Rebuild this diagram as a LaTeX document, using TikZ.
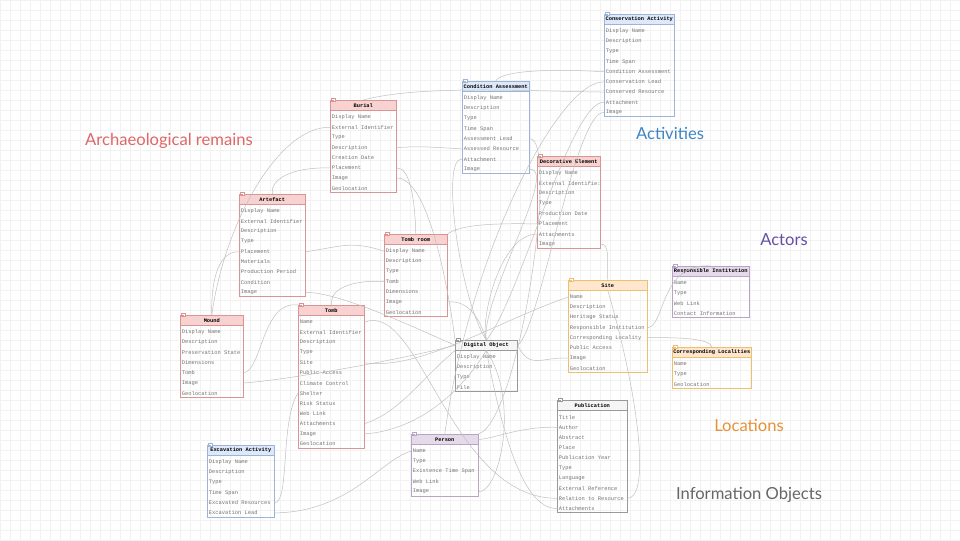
\documentclass[tikz,border=0pt]{standalone}
\usepackage{fontspec}
\setmonofont{Liberation Mono}
\newfontfamily\groupfont{Lato}
\usetikzlibrary{calc}

\definecolor{redline}{HTML}{D99593}
\definecolor{redfill}{HTML}{F8D2D0}
\definecolor{blueline}{HTML}{9DB4D8}
\definecolor{bluefill}{HTML}{DDE9FA}
\definecolor{greyline}{HTML}{999999}
\definecolor{greyfill}{HTML}{F5F5F5}
\definecolor{orangeline}{HTML}{EBC170}
\definecolor{orangefill}{HTML}{FFE7CF}
\definecolor{purpleline}{HTML}{B9A3C6}
\definecolor{purplefill}{HTML}{E5DAEA}
\definecolor{remainscol}{HTML}{E06666}
\definecolor{activitycol}{HTML}{3D85C6}
\definecolor{actorcol}{HTML}{674EA7}
\definecolor{locationcol}{HTML}{E69138}
\definecolor{infocol}{HTML}{666666}

\tikzset{
  ehead/.style={draw=#1line, fill=#1fill, line width=0.4pt, anchor=north west,
    minimum height=0.25cm, inner xsep=0pt, inner ysep=0pt,
    font=\ttfamily\bfseries\fontsize{3.8}{4.5}\selectfont},
  erow/.style={anchor=west, inner xsep=0.0375cm, inner ysep=0pt,
    text=black!55, font=\ttfamily\fontsize{3.85}{4.5}\selectfont},
  link/.style={draw=black!25, line width=0.35pt},
  grouplabel/.style={font=\groupfont\fontsize{11.8}{14}\selectfont},
}

% #1 name, #2 position, #3 width (px), #4 colour, #5 title, #6 rows
\newcommand{\etable}[6]{%
  \node[ehead=#4, minimum width=#3*0.025cm] (#1) at #2 {#5};
  \pgfmathsetmacro\rowwidth{(#3-3)*0.025}
  \foreach \row [count=\i] in {#6}{%
    \node[erow] (#1-\i) at ($(#1.south west)+(0,{(\i-0.35)*10.15})$) {\makebox[\rowwidth cm][l]{\row}};
    \xdef\nrows{\i}}
  \draw[#4line, line width=0.4pt] (#1.north west) rectangle ($(#1.south east)+(0,\nrows*10.15+0.5)$);
  % collapse icon
  \draw[#4line, fill=white, line width=0.2pt] ($(#1.north west)+(1.5,-1.5)$) rectangle +(3.5,3);
  \draw[#4line, line width=0.2pt] ($(#1.north west)+(2.2,0)$) -- +(2.1,0);
}

\begin{document}
\begin{tikzpicture}[x=0.025cm, y=-0.025cm]
  \useasboundingbox (0,0) rectangle (960,540);
  \fill[white] (0,0) rectangle (960,540);
  % grid
  \foreach \gx in {0,10,...,960} \draw[black!5, line width=0.2pt] (\gx,0) -- (\gx,540);
  \foreach \gy in {0,10,...,540} \draw[black!5, line width=0.2pt] (0,\gy) -- (960,\gy);

  % activities
  \etable{consact}{(604,14)}{70}{blue}{Conservation Activity}{Display Name,Description,Type,Time Span,Condition Assessment,Conservation Lead,Conserved Resource,Attachment,Image}
  \etable{condass}{(462,81)}{67}{blue}{Condition Assessment}{Display Name,Description,Type,Time Span,Assessment Lead,Assessed Resource,Attachment,Image}
  \etable{excav}{(207,445)}{67}{blue}{Excavation Activity}{Display Name,Description,Type,Time Span,Excavated Resources,Excavation Lead}

  % archaeological remains
  \etable{burial}{(330,100)}{66}{red}{Burial}{Display Name,External Identifier,Type,Description,Creation Date,Placement,Image,Geolocation}
  \etable{decor}{(537,156)}{63}{red}{Decorative Element}{Display Name,External Identifie:,Description,Type,Production Date,Placement,Attachments,Image}
  \etable{artefact}{(239,194)}{66}{red}{Artefact}{Display Name,External Identifier,Description,Type,Placement,Materials,Production Period,Condition,Image}
  \etable{tombroom}{(384,234)}{63}{red}{Tomb room}{Display Name,Description,Type,Tomb,Dimensions,Image,Geolocation}
  \etable{mound}{(180,315)}{63}{red}{Mound}{Display Name,Description,Preservation State,Dimensions,Tomb,Image,Geolocation}
  \etable{tomb}{(298,305)}{66}{red}{Tomb}{Name,External Identifier,Description,Type,Site,Public Access,Climate Control,Shelter,Risk Status,Web Link,Attachments,Image,Geolocation}

  % information objects
  \etable{digobj}{(455,340)}{62}{grey}{Digital Object}{Display Name,Description,Type,File}
  \etable{publ}{(557,400)}{70}{grey}{Publication}{Title,Author,Abstract,Place,Publication Year,Type,Language,External Reference,Relation to Resource,Attachments}

  % locations
  \etable{site}{(568,280)}{79}{orange}{Site}{Name,Description,Heritage Status,Responsible Institution,Corresponding Locality,Public Access,Image,Geolocation}
  \etable{corrloc}{(672,347)}{79}{orange}{Corresponding Localities}{Name,Type,Geolocation}

  % actors
  \etable{respinst}{(672,266)}{77}{purple}{Responsible Institution}{Name,Type,Web Link,Contact Information}
  \etable{person}{(411,434)}{67}{purple}{Person}{Name,Type,Existence Time Span,Web Link,Image}

  % links
  \draw[link] (consact-5.west) .. controls (540,68) and (500,72) .. (condass.north);
  \draw[link] (consact-6.west) .. controls (560,80) and (470,250) .. (person.north);
  \draw[link] (consact-7.west) .. controls (520,91) and (420,85) .. (burial.north);
  \draw[link] (consact-8.west) .. controls (570,101) and (520,300) .. (digobj.north);
  \draw[link] (consact-9.west) .. controls (575,111) and (540,330) .. (digobj.east);
  \draw[link] (condass-5.east) .. controls (560,137) and (520,420) .. (person.north east);
  \draw[link] (condass-6.west) .. controls (430,147) and (420,146) .. (burial-4.east);
  \draw[link] (condass-7.west) .. controls (440,157) and (460,300) .. (digobj.north);
  \draw[link] (condass-8.east) .. controls (560,168) and (480,300) .. (digobj.north);
  \draw[link] (burial-6.west) .. controls (290,167) and (270,180) .. (artefact.north);
  \draw[link] (burial-2.west) .. controls (280,126) and (225,220) .. (mound.north);
  \draw[link] (burial-6.east) .. controls (410,167) and (415,200) .. (tombroom.north);
  \draw[link] (burial-7.east) .. controls (430,177) and (450,300) .. (digobj.north west);
  \draw[link] (artefact-5.west) .. controls (215,251) and (211,290) .. (mound.north);
  \draw[link] (artefact-5.east) .. controls (340,247) and (350,240) .. (tombroom-1.west);
  \draw[link] (artefact-9.east) .. controls (340,292) and (420,330) .. (digobj.west);
  \draw[link] (decor-6.west) .. controls (490,223) and (460,225) .. (tombroom.north east);
  \draw[link] (decor-7.west) .. controls (500,234) and (480,320) .. (digobj.north);
  \draw[link] (decor-8.east) .. controls (610,243) and (607,260) .. (site.north);
  \draw[link] (tombroom-4.west) .. controls (360,280) and (330,285) .. (tomb.north);
  \draw[link] (tombroom-6.east) .. controls (470,300) and (480,320) .. (digobj.north);
  \draw[link] (mound-5.east) .. controls (262,371) and (262,300) .. (tomb.north west);
  \draw[link] (mound-6.east) .. controls (280,381) and (400,360) .. (digobj.west);
  \draw[link] (tomb-5.east) .. controls (420,371) and (500,320) .. (site-1.west);
  \draw[link] (tomb-11.east) .. controls (400,412) and (420,380) .. (digobj.south west);
  \draw[link] (tomb-12.east) .. controls (400,432) and (450,410) .. (digobj.south);
  \draw[link] (site-4.east) .. controls (665,327) and (660,262) .. (respinst.north);
  \draw[link] (site-5.east) .. controls (690,337) and (710,340) .. (corrloc.north);
  \draw[link] (site-7.west) .. controls (540,357) and (530,370) .. (digobj.east);
  \draw[link] (person-5.east) .. controls (500,492) and (520,400) .. (digobj.south);
  \draw[link] (publ-9.east) .. controls (650,498) and (640,400) .. (site.south);
  \draw[link] (publ-9.west) .. controls (450,498) and (420,300) .. (tomb-1.east);
  \draw[link] (publ-10.west) .. controls (520,509) and (500,420) .. (digobj.south);
  \draw[link] (publ-2.west) .. controls (520,426) and (490,440) .. (person.east);
  \draw[link] (excav-5.east) .. controls (290,502) and (280,420) .. (tomb-8.west);
  \draw[link] (excav-6.east) .. controls (350,512) and (380,460) .. (person-1.west);

  % group labels
  \node[grouplabel, text=remainscol] (lblremains) at (169,141) {Archaeological remains};
  \node[grouplabel, text=activitycol] (lblactivities) at (670,133) {Activities};
  \node[grouplabel, text=actorcol] (lblactors) at (784,240) {Actors};
  \node[grouplabel, text=locationcol] (lbllocations) at (749,425) {Locations};
  \node[grouplabel, text=infocol] (lblinfo) at (749,495) {Information Objects};
\end{tikzpicture}
\end{document}
